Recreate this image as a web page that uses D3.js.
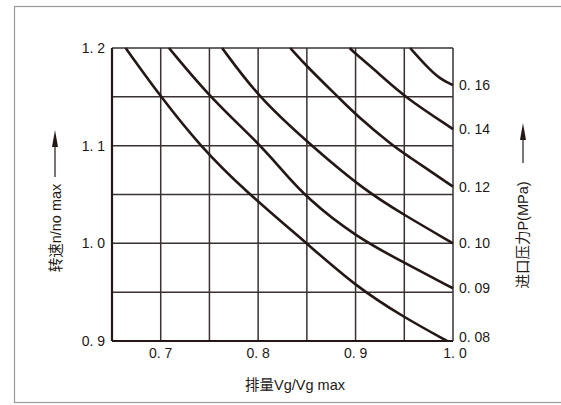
<!DOCTYPE html>
<html>
<head>
<meta charset="utf-8">
<script src="https://cdn.jsdelivr.net/npm/d3@7"></script>
<style>
    html, body { margin: 0; padding: 0; background: #fff; }
    svg { display: block; }
    .tick-label { font-family: "Liberation Sans", Arial, sans-serif; font-size: 14px; fill: #231815; }
    .title { font-family: "Liberation Sans", "Noto Sans CJK SC", sans-serif; font-size: 14.5px; fill: #231815; }
</style>
</head>
<body>
<div id="chart"></div>
<script>
    // axis ticks (displacement Vg/Vg max, speed n/no max)
    var xTicks = [0.7, 0.8, 0.9, 1.0];
    var xTickLabels = ["0. 7", "0. 8", "0. 9", "1. 0"];
    var yTicks = [0.9, 1.0, 1.1, 1.2];
    var yTickLabels = ["0. 9", "1. 0", "1. 1", "1. 2"];

    // inlet pressure of each curve (MPa)
    var pressureLabels = ["0. 08", "0. 09", "0. 10", "0. 12", "0. 14", "0. 16"];

    // curve points [Vg/Vg max, n/no max]
    var curveP008 = [[0.664, 1.2], [0.70, 1.15], [0.74, 1.10], [0.785, 1.055], [0.85, 1.0], [0.90, 0.956], [0.95, 0.924], [0.994, 0.9]];
    var curveP009 = [[0.7085, 1.2], [0.75, 1.15], [0.80, 1.103], [0.822, 1.078], [0.85, 1.046], [0.90, 1.007], [0.95, 0.980], [1.0, 0.954]];
    var curveP010 = [[0.763, 1.2], [0.80, 1.15], [0.85, 1.104], [0.908, 1.055], [0.95, 1.029], [1.0, 1.0]];
    var curveP012 = [[0.833, 1.2], [0.85, 1.181], [0.885, 1.147], [0.90, 1.132], [0.938, 1.10], [0.95, 1.092], [1.0, 1.058]];
    var curveP014 = [[0.894, 1.2], [0.90, 1.194], [0.925, 1.173], [0.95, 1.15], [1.0, 1.117]];
    var curveP016 = [[0.956, 1.2], [0.973, 1.181], [0.987, 1.168], [1.0, 1.162]];

    var curves = [curveP008, curveP009, curveP010, curveP012, curveP014, curveP016];

    (function () {
        "use strict";

        var W = 561, H = 405;
        var plotLeft = 112, plotTop = 48, w = 341, h = 293;
        var ink = "#231815";

        var svg = d3.select("#chart").append("svg")
            .attr("width", W)
            .attr("height", H);

        // outer frame (right side runs off the picture)
        svg.append("rect")
            .attr("x", 14.5).attr("y", 6.5)
            .attr("width", 600).attr("height", 396)
            .attr("fill", "none")
            .attr("stroke", "#9a9a9a")
            .attr("stroke-width", 1.2);

        var x = d3.scaleLinear().domain([0.65, 1.0]).range([plotLeft, plotLeft + w]);
        var y = d3.scaleLinear().domain([0.9, 1.2]).range([plotTop + h, plotTop]);

        var g = svg.append("g");

        // grid every 0.05
        var gridX = d3.range(0.65, 1.0001, 0.05);
        var gridY = d3.range(0.9, 1.2001, 0.05);

        g.selectAll(".gx").data(gridX).enter().append("line")
            .attr("x1", function (d) { return x(d); })
            .attr("x2", function (d) { return x(d); })
            .attr("y1", plotTop).attr("y2", plotTop + h)
            .attr("stroke", "#3a3131").attr("stroke-width", 1.5);

        g.selectAll(".gy").data(gridY).enter().append("line")
            .attr("y1", function (d) { return y(d); })
            .attr("y2", function (d) { return y(d); })
            .attr("x1", plotLeft).attr("x2", plotLeft + w)
            .attr("stroke", "#3a3131").attr("stroke-width", 1.5);

        // heavier left and bottom axis lines
        g.append("line").attr("x1", plotLeft).attr("x2", plotLeft).attr("y1", plotTop).attr("y2", plotTop + h)
            .attr("stroke", ink).attr("stroke-width", 2.2);
        g.append("line").attr("x1", plotLeft).attr("x2", plotLeft + w).attr("y1", plotTop + h).attr("y2", plotTop + h)
            .attr("stroke", ink).attr("stroke-width", 2.2);

        // curves, smoothed
        var line = d3.line()
            .x(function (d) { return x(d[0]); })
            .y(function (d) { return y(d[1]); })
            .curve(d3.curveBasis);

        g.selectAll(".curve").data(curves).enter().append("path")
            .attr("d", line)
            .attr("fill", "none")
            .attr("stroke", ink)
            .attr("stroke-width", 2.6);

        // left tick labels
        svg.selectAll(".yl").data(yTicks).enter().append("text")
            .attr("class", "tick-label")
            .attr("x", plotLeft - 7)
            .attr("y", function (d) { return y(d); })
            .attr("dy", "0.35em")
            .attr("text-anchor", "end")
            .text(function (d, i) { return yTickLabels[i]; });

        // bottom tick labels
        svg.selectAll(".xl").data(xTicks).enter().append("text")
            .attr("class", "tick-label")
            .attr("x", function (d) { return x(d) + (d === 1.0 ? 2 : 0); })
            .attr("y", plotTop + h + 17)
            .attr("text-anchor", "middle")
            .text(function (d, i) { return xTickLabels[i]; });

        // pressure labels at the right end of each curve
        svg.selectAll(".pl").data(curves).enter().append("text")
            .attr("class", "tick-label")
            .attr("x", plotLeft + w + 6)
            .attr("y", function (d) { return Math.min(y(d[d.length - 1][1]), plotTop + h - 4); })
            .attr("dy", "0.35em")
            .text(function (d, i) { return pressureLabels[i]; });

        // axis titles
        svg.append("text")
            .attr("class", "title")
            .attr("transform", "translate(56,228) rotate(-90)")
            .attr("text-anchor", "middle")
            .attr("dominant-baseline", "central")
            .text("转速n/no max");

        svg.append("text")
            .attr("class", "title")
            .attr("transform", "translate(523,235) rotate(-90)")
            .attr("text-anchor", "middle")
            .attr("dominant-baseline", "central")
            .text("进口压力P(MPa)");

        svg.append("text")
            .attr("class", "title")
            .attr("x", 295).attr("y", 385)
            .attr("text-anchor", "middle")
            .attr("dominant-baseline", "central")
            .text("排量Vg/Vg max");

        // upward arrows next to the vertical titles
        function arrow(cx, tipY, baseY) {
            svg.append("line")
                .attr("x1", cx).attr("x2", cx)
                .attr("y1", tipY + 12).attr("y2", baseY)
                .attr("stroke", ink).attr("stroke-width", 1.2);
            svg.append("path")
                .attr("d", "M" + cx + "," + tipY + " L" + (cx - 3) + "," + (tipY + 17) + " L" + (cx + 3) + "," + (tipY + 17) + " Z")
                .attr("fill", ink);
        }
        arrow(55, 130, 177);
        arrow(523, 123, 163);
    })();
</script>
</body>
</html>
